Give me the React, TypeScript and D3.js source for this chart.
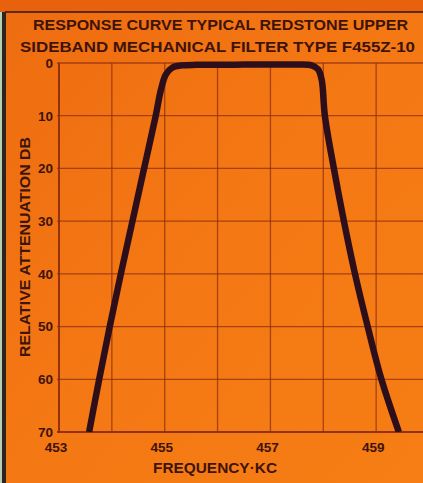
import React from "react";
import * as d3 from "d3";

const title1 = "RESPONSE CURVE TYPICAL REDSTONE UPPER";
const title2 = "SIDEBAND MECHANICAL FILTER TYPE F455Z-10";
const xLabel = "FREQUENCY·KC";
const yLabel = "RELATIVE ATTENUATION DB";

const xGrid = [453, 454, 455, 456, 457, 458, 459, 460];
const xTickLabels = [453, 455, 457, 459];
const yTicks = [0, 10, 20, 30, 40, 50, 60, 70];

const freq = [
  453.57, 453.76, 453.96, 454.17, 454.39, 454.61, 454.83, 454.93, 455.02, 455.14, 455.32,
  455.6, 456.0, 456.5, 457.0, 457.5, 457.78, 457.9, 457.97, 458.03, 458.2, 458.39,
  458.6, 458.84, 459.1, 459.43,
];
const atten = [
  70, 60, 50, 40, 30, 20, 10, 5, 2.2, 0.9, 0.45,
  0.35, 0.35, 0.3, 0.3, 0.3, 0.45, 1.2, 3.2, 10, 20, 30,
  40, 50, 60, 70,
];

const W = 423;
const H = 483;
const M = { left: 59, top: 63, right: 429, bottom: 432 };

export default function App() {
  const x = d3.scaleLinear().domain([453, 460]).range([M.left, M.right]);
  const y = d3.scaleLinear().domain([0, 70]).range([M.top, M.bottom]);
  const pts = freq.map((f, i) => [f, atten[i]] as [number, number]);
  const line = d3
    .line<[number, number]>()
    .x((d) => x(d[0]))
    .y((d) => y(d[1]))
    .curve(d3.curveCatmullRom.alpha(0.5));

  const ink = "#3e130a";
  const grid = "#8e2e12";
  const font = "'Liberation Sans', Arial, sans-serif";

  return (
    <svg
      width={W}
      height={H}
      style={{ position: "absolute", left: 0, top: 0 }}
      xmlns="http://www.w3.org/2000/svg"
    >
      <defs>
        <clipPath id="plotclip">
          <rect x={M.left} y={M.top - 10} width={M.right - M.left} height={M.bottom - M.top + 10} />
        </clipPath>
        <linearGradient id="bg" x1="0" y1="0" x2="1" y2="1">
          <stop offset="0" stopColor="#ee6c10" />
          <stop offset="0.5" stopColor="#f47814" />
          <stop offset="1" stopColor="#f67e14" />
        </linearGradient>
      </defs>
      <rect x={0} y={0} width={W} height={H} fill="url(#bg)" />
      <rect x={0} y={0} width={W} height={12} fill="#e8620e" />
      {/* photo frame edges */}
      <line x1={5} y1={12} x2={W} y2={12} stroke="#3a1a12" strokeWidth={2} opacity={0.8} />
      <rect x={0} y={12} width={2} height={H - 12} fill="#b9d0b0" />
      <rect x={2} y={12} width={4} height={H - 12} fill="#2b2420" />

      {/* title */}
      <text x={220.5} y={30} textAnchor="middle" fontFamily={font} fontWeight="bold" fontSize={15.5}
        fill={ink} textLength={375} lengthAdjust="spacingAndGlyphs">{title1}</text>
      <text x={217.5} y={52} textAnchor="middle" fontFamily={font} fontWeight="bold" fontSize={15.5}
        fill={ink} textLength={395} lengthAdjust="spacingAndGlyphs">{title2}</text>

      {/* grid */}
      <g>
        {xGrid.map((v) => (
          <line key={"vx" + v} x1={x(v)} x2={x(v)} y1={M.top} y2={M.bottom}
            stroke={grid} strokeWidth={v === 453 ? 2 : 1.3} opacity={v === 453 ? 0.95 : 0.75} />
        ))}
        {yTicks.map((v) => (
          <line key={"hy" + v} x1={M.left - 2} x2={M.right} y1={y(v)} y2={y(v)}
            stroke={grid} strokeWidth={v === 70 ? 2 : 1.3} opacity={v === 70 ? 0.95 : 0.75} />
        ))}
      </g>

      {/* curve */}
      <path d={line(pts) || ""} fill="none" stroke="#2c0f1a" strokeWidth={6.5}
        strokeLinejoin="round" strokeLinecap="butt" clipPath="url(#plotclip)" />

      {/* y tick labels */}
      {yTicks.map((v) => (
        <text key={"yl" + v} x={53} y={y(v)} dy="0.36em" textAnchor="end" fontFamily={font}
          fontWeight="bold" fontSize={13.5} fill={ink}>{v}</text>
      ))}
      {/* x tick labels */}
      {xTickLabels.map((v) => (
        <text key={"xl" + v} x={x(v) - 3} y={452} textAnchor="middle" fontFamily={font}
          fontWeight="bold" fontSize={13.5} fill={ink}>{v}</text>
      ))}

      <text x={215} y={473} textAnchor="middle" fontFamily={font} fontWeight="bold" fontSize={14}
        fill={ink} textLength={124} lengthAdjust="spacingAndGlyphs">{xLabel}</text>
      <text transform="translate(30,247) rotate(-90)" textAnchor="middle" fontFamily={font}
        fontWeight="bold" fontSize={14} fill={ink} textLength={220} lengthAdjust="spacingAndGlyphs">{yLabel}</text>
    </svg>
  );
}
